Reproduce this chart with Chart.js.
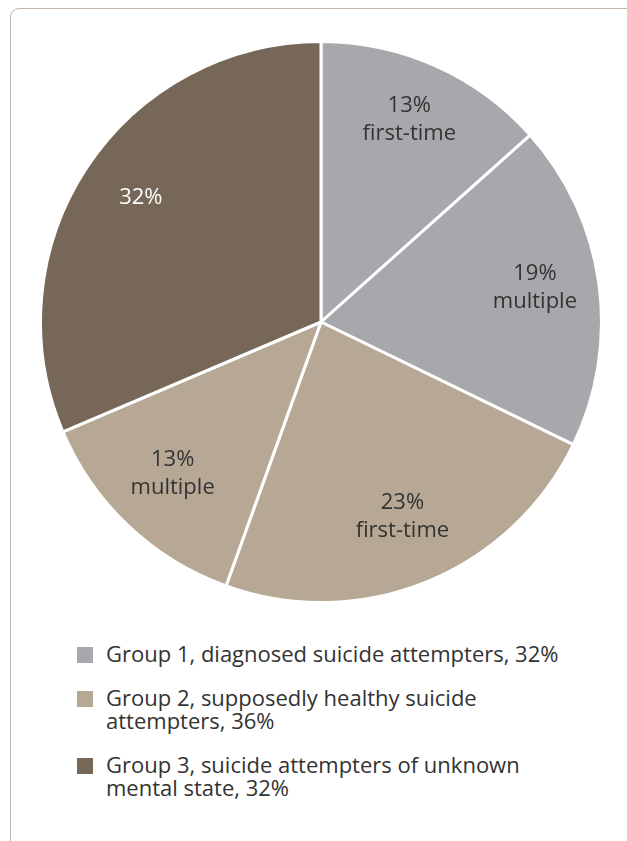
<!DOCTYPE html>
<html><head><meta charset="utf-8">
<script src="https://cdn.jsdelivr.net/npm/chart.js@4.4.1/dist/chart.umd.min.js"></script>
<style>
html,body{margin:0;padding:0;background:#fff;width:627px;height:841px;overflow:hidden;font-family:"Open Sans",sans-serif;}
#card{position:absolute;left:10px;top:8px;width:640px;height:900px;border:1.5px solid #c2b3a6;border-radius:9px;box-sizing:border-box;}
#wrap{position:absolute;left:39px;top:40px;width:564px;height:564px;}
#legend{position:absolute;left:77px;top:641.5px;width:540px;color:#333;font-size:22px;line-height:23px;white-space:nowrap;}
.item{position:relative;padding-left:29px;margin-bottom:21px;}
.sw{position:absolute;left:0;top:5.5px;width:16px;height:16px;}
</style></head><body>
<div id="card"></div>
<div id="wrap"><canvas id="c"></canvas></div>
<div id="legend"></div>
<script>
const sliceValues = [13.4, 18.8, 23.3, 13.1, 31.4];
const sliceLines = [["13%","first-time"],["19%","multiple"],["23%","first-time"],["13%","multiple"],["32%"]];
const sliceGroup = [0, 0, 1, 1, 2];
const groupNames = ["Group 1, diagnosed suicide attempters, 32%","Group 2, supposedly healthy suicide<br>attempters, 36%","Group 3, suicide attempters of unknown<br>mental state, 32%"];
const groupColors = ["#a7a8ab","#b6a895","#766759"];
const labelColors = ["#333333","#333333","#333333","#333333","#ffffff"];

const lg = document.getElementById('legend');
groupNames.forEach((n,i)=>{
  const d=document.createElement('div');d.className='item';
  d.innerHTML='<span class="sw" style="background:'+groupColors[i]+'"></span>'+n;
  lg.appendChild(d);
});

const labelPlugin = {
  id:'sliceLabels',
  afterDatasetsDraw(chart){
    const ctx=chart.ctx;
    const meta=chart.getDatasetMeta(0);
    ctx.save();
    ctx.font='22px "Open Sans"';
    ctx.textAlign='center';ctx.textBaseline='middle';
    meta.data.forEach((arc,i)=>{
      const p=arc.getProps(['x','y','startAngle','endAngle','outerRadius'],true);
      const a=(p.startAngle+p.endAngle)/2;
      const r=p.outerRadius*0.77;
      const cx=p.x+Math.cos(a)*r, cy=p.y+Math.sin(a)*r-5;
      const lines=sliceLines[i];
      const lh=28;
      ctx.fillStyle=labelColors[i];
      lines.forEach((t,j)=>{
        ctx.fillText(t,cx,cy+(j-(lines.length-1)/2)*lh);
      });
    });
    ctx.restore();
  }
};

new Chart(document.getElementById('c'),{
  type:'pie',
  data:{labels:sliceLines.map(l=>l.join(' ')),datasets:[{data:sliceValues,backgroundColor:sliceGroup.map(g=>groupColors[g]),borderColor:'#ffffff',borderWidth:3}]},
  options:{responsive:true,maintainAspectRatio:false,animation:false,
    plugins:{legend:{display:false},tooltip:{enabled:false}},layout:{padding:0}},
  plugins:[labelPlugin]
});
</script>
</body></html>
